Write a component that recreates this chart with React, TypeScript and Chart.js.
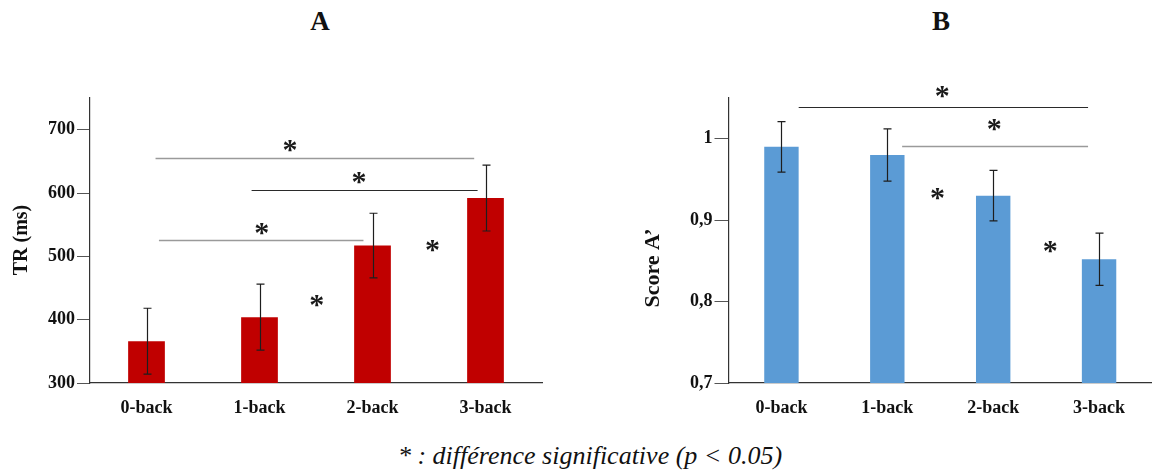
import React, { useEffect, useRef } from "react";
import { Chart, registerables } from "chart.js";

Chart.register(...registerables);

// ---------- data ----------
const categories = ["0-back", "1-back", "2-back", "3-back"];

const trValues = [366, 404, 517, 592];
const trErrors = [52, 52, 51, 52];
const trTicks = [300, 400, 500, 600, 700];

const scoreValues = [0.99, 0.98, 0.93, 0.852];
const scoreErrors = [0.031, 0.032, 0.031, 0.032];
const scoreTicks = [0.7, 0.8, 0.9, 1.0];
const scoreTickLabels = ["0,7", "0,8", "0,9", "1"];

// significance annotations (category index positions, value on the y scale)
const trSigLines = [
  { from: 0.08, to: 2.9, value: 656, tone: "light" },
  { from: 0.93, to: 2.93, value: 604, tone: "dark" },
  { from: 0.11, to: 1.92, value: 526, tone: "light" },
];
const trStars = [
  { at: 1.27, value: 675 },
  { at: 1.88, value: 624 },
  { at: 1.02, value: 543 },
  { at: 1.506, value: 430 },
  { at: 2.53, value: 517 },
];

const scoreSigLines = [
  { from: 0.163, to: 2.896, value: 1.039, tone: "dark" },
  { from: 1.14, to: 2.896, value: 0.9905, tone: "light" },
];
const scoreStars = [
  { at: 1.52, value: 1.0576 },
  { at: 2.01, value: 1.017 },
  { at: 1.475, value: 0.932 },
  { at: 2.54, value: 0.867 },
];

const FONT = '"Liberation Serif", "Times New Roman", serif';

function overlayPlugin(values: number[], errors: number[], lines: any[], stars: any[], yTitle: string, titleX: number, titleY: number, titleSize: number) {
  return {
    id: "overlay",
    afterDatasetsDraw(chart: any) {
      const ctx = chart.ctx;
      const xs = chart.scales.x;
      const ys = chart.scales.y;
      const meta = chart.getDatasetMeta(0);
      ctx.save();
      // error bars
      ctx.strokeStyle = "#1e1e1e";
      ctx.lineWidth = 1.2;
      meta.data.forEach((bar: any, i: number) => {
        const cx = Math.round(bar.x) + 0.5;
        const t = ys.getPixelForValue(values[i] + errors[i]);
        const b = ys.getPixelForValue(values[i] - errors[i]);
        ctx.beginPath();
        ctx.moveTo(cx, t);
        ctx.lineTo(cx, b);
        ctx.moveTo(cx - 4, t);
        ctx.lineTo(cx + 4, t);
        ctx.moveTo(cx - 4, b);
        ctx.lineTo(cx + 4, b);
        ctx.stroke();
      });
      // significance lines
      lines.forEach((l) => {
        const light = l.tone === "light";
        ctx.strokeStyle = light ? "#9a9a9a" : "#2a2a2a";
        ctx.lineWidth = light ? 1.7 : 1.1;
        const py = Math.round(ys.getPixelForValue(l.value)) + 0.5;
        ctx.beginPath();
        ctx.moveTo(xs.getPixelForValue(l.from), py);
        ctx.lineTo(xs.getPixelForValue(l.to), py);
        ctx.stroke();
      });
      // stars
      ctx.font = "bold 30px " + FONT;
      ctx.fillStyle = "#1a1a1a";
      ctx.textAlign = "center";
      ctx.textBaseline = "alphabetic";
      const m = ctx.measureText("*");
      const off = (m.actualBoundingBoxAscent - m.actualBoundingBoxDescent) / 2;
      stars.forEach((s) => {
        ctx.fillText("*", xs.getPixelForValue(s.at), ys.getPixelForValue(s.value) + off);
      });
      // y axis title
      ctx.font = "bold " + titleSize + "px " + FONT;
      ctx.translate(titleX, titleY);
      ctx.rotate(-Math.PI / 2);
      ctx.textBaseline = "middle";
      ctx.fillStyle = "#111";
      ctx.fillText(yTitle, 0, 0);
      ctx.restore();
    },
  };
}

function makeConfig(opts: {
  values: number[];
  errors: number[];
  color: string;
  min: number;
  max: number;
  ticks: number[];
  tickLabel: (v: number) => string;
  axisWidth: number;
  tickLength: number;
  padRight: number;
  plugin: any;
}) {
  return {
    type: "bar",
    data: {
      labels: categories,
      datasets: [
        {
          data: opts.values,
          backgroundColor: opts.color,
          borderWidth: 0,
          barPercentage: 0.325,
          categoryPercentage: 1,
        },
      ],
    },
    options: {
      animation: false,
      responsive: false,
      events: [],
      layout: { padding: { top: 98, right: opts.padRight, left: 0, bottom: 0 } },
      plugins: { legend: { display: false }, tooltip: { enabled: false }, title: { display: false } },
      scales: {
        x: {
          grid: { display: false, drawTicks: false },
          border: { display: true, color: "#333", width: 1.2 },
          ticks: { color: "#111", font: { family: FONT, size: 18, weight: "bold" }, padding: 15, maxRotation: 0 },
          afterFit: (s: any) => {
            s.height = 47;
          },
        },
        y: {
          min: opts.min,
          max: opts.max,
          grid: { display: true, drawOnChartArea: false, drawTicks: true, tickLength: opts.tickLength, color: "#555" },
          border: { display: true, color: "#333", width: 1.2 },
          ticks: {
            color: "#111",
            font: { family: FONT, size: 18, weight: "bold" },
            padding: 2,
            callback: (v: any) => opts.tickLabel(Number(v)),
          },
          afterBuildTicks: (s: any) => {
            s.ticks = opts.ticks.map((v) => ({ value: v }));
          },
          afterFit: (s: any) => {
            s.width = opts.axisWidth;
          },
        },
      },
    },
    plugins: [opts.plugin],
  };
}

function BarChart({ config, left }: { config: any; left: number }) {
  const ref = useRef<HTMLCanvasElement | null>(null);
  useEffect(() => {
    if (!ref.current) return;
    const chart = new Chart(ref.current, config);
    return () => chart.destroy();
  }, [config]);
  return (
    <canvas
      ref={ref}
      width={576}
      height={430}
      style={{ position: "absolute", left, top: 0, width: 576, height: 430 }}
    />
  );
}

const configA = makeConfig({
  values: trValues,
  errors: trErrors,
  color: "#C00000",
  min: 300,
  max: 750,
  ticks: trTicks,
  tickLabel: (v) => String(v),
  axisWidth: 90,
  tickLength: 13,
  padRight: 34,
  plugin: overlayPlugin(trValues, trErrors, trSigLines, trStars, "TR (ms)", 22, 240, 20),
});

const configB = makeConfig({
  values: scoreValues,
  errors: scoreErrors,
  color: "#5B9BD5",
  min: 0.7,
  max: 1.05,
  ticks: scoreTicks,
  tickLabel: (v) => {
    const i = scoreTicks.findIndex((t) => Math.abs(t - v) < 1e-6);
    return i >= 0 ? scoreTickLabels[i] : "";
  },
  axisWidth: 152.5,
  tickLength: 14,
  padRight: 0,
  plugin: overlayPlugin(scoreValues, scoreErrors, scoreSigLines, scoreStars, "Score A\u2019", 77.5, 268, 22),
});

export default function App() {
  const titleStyle: React.CSSProperties = {
    position: "absolute",
    top: 8,
    width: 60,
    textAlign: "center",
    fontFamily: FONT,
    fontWeight: "bold",
    fontSize: 27,
    lineHeight: "27px",
    color: "#111",
  };
  return (
    <div style={{ position: "fixed", left: 0, top: 0, width: 1152, height: 475, background: "#fff", overflow: "hidden" }}>
      <div style={{ ...titleStyle, left: 320 - 30 }}>A</div>
      <div style={{ ...titleStyle, left: 941 - 30 }}>B</div>
      <BarChart config={configA} left={0} />
      <BarChart config={configB} left={576} />
      <div
        style={{
          position: "absolute",
          left: 290,
          width: 600,
          top: 443,
          textAlign: "center",
          fontFamily: FONT,
          fontStyle: "italic",
          fontSize: 26,
          lineHeight: "26px",
          color: "#111",
          whiteSpace: "nowrap",
        }}
      >
        * : différence significative (p &lt; 0.05)
      </div>
    </div>
  );
}
